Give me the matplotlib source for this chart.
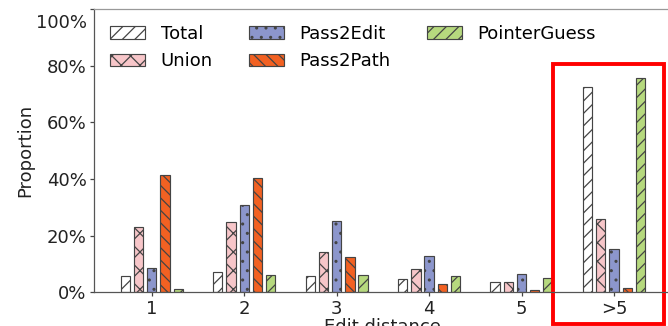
import numpy as np
import matplotlib.pyplot as plt
from matplotlib.patches import Rectangle
from matplotlib.ticker import PercentFormatter
import matplotlib.transforms as mtransforms

categories = ["1", "2", "3", "4", "5", ">5"]
series = ["Total", "Union", "Pass2Edit", "Pass2Path", "PointerGuess"]
total = [0.059, 0.073, 0.056, 0.046, 0.036, 0.724]
union = [0.232, 0.247, 0.141, 0.082, 0.036, 0.258]
pass2edit = [0.085, 0.307, 0.253, 0.128, 0.066, 0.153]
pass2path = [0.413, 0.402, 0.124, 0.028, 0.007, 0.014]
pointerguess = [0.011, 0.060, 0.061, 0.056, 0.052, 0.755]

colors = ["white", "#f7c6c9", "#8c96cc", "#f26122", "#b6d97e"]
hatches = ["///", "xx", "..", "\\\\\\", "///"]

DPI = 112
FS = 11.6
plt.rcParams["hatch.linewidth"] = 0.8
fig = plt.figure(figsize=(668 / DPI, 326 / DPI), dpi=DPI)
ax = fig.add_axes([0.1407, 0.1034, 0.865, 0.869])

x = np.arange(len(categories))
width = 0.1
step = 0.143
for i, (name, vals) in enumerate(zip(series, [total, union, pass2edit, pass2path, pointerguess])):
    ax.bar(x + (i - 2) * step, vals, width, label=name, color=colors[i],
           hatch=hatches[i], edgecolor="#444444", linewidth=0.75)

ax.set_xlim(-0.626, 5.626)
ax.set_ylim(0, 1.0)
ax.set_xticks(x)
ax.set_xticklabels(categories)
ax.set_yticks(np.arange(0, 1.01, 0.2))
ax.yaxis.set_major_formatter(PercentFormatter(1.0, decimals=0))
ax.tick_params(labelsize=FS, colors="#444444", labelcolor="#222222",
               length=2.8, pad=2)
ax.set_ylabel("Proportion", fontsize=FS, color="#222222", labelpad=1)
ax.set_xlabel("Edit distance", fontsize=FS, color="#222222", labelpad=0)
for s in ["left", "bottom"]:
    ax.spines[s].set_color("#555555")
ax.spines["top"].set_color("#999999")

# nudge the topmost tick label down so it sits inside the frame
top_label = ax.get_yticklabels()[-1]
top_label.set_transform(top_label.get_transform() +
                        mtransforms.ScaledTranslation(0, -12.5 / DPI, fig.dpi_scale_trans))

ax.legend(ncol=3, loc="upper left", frameon=False, fontsize=FS,
          handlelength=1.95, handleheight=0.72, handletextpad=0.85,
          columnspacing=2.0, labelspacing=0.5)

# highlight the >5 group
ax.add_patch(Rectangle((4.341, -0.112), 1.2, 0.918, fill=False,
                       edgecolor="red", linewidth=2.5, clip_on=False))

fig.savefig("out.png", dpi=DPI)
